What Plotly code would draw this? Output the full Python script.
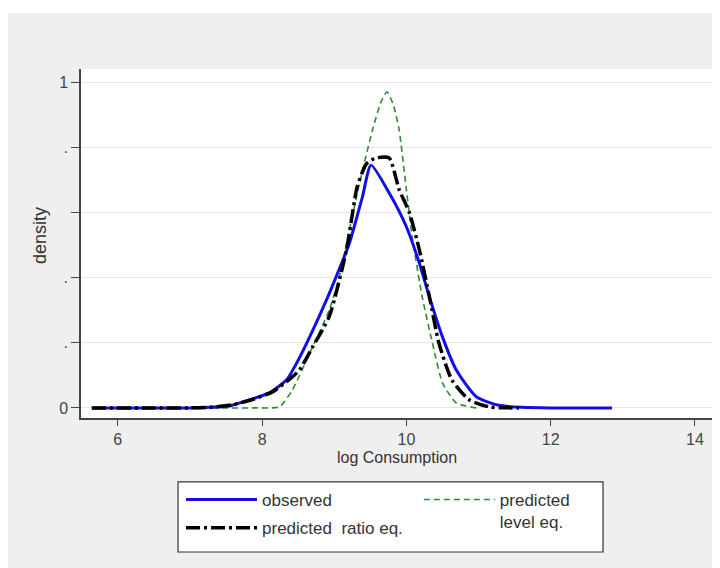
import plotly.graph_objects as go

# observed density
obs_x = [5.64, 6.5, 7.0, 7.27, 7.55, 7.83, 8.1, 8.34, 8.48, 8.66, 8.89, 9.05, 9.21, 9.39, 9.51,
         9.76, 10.0, 10.18, 10.32, 10.5, 10.69, 10.97, 11.28, 11.6, 12.0, 12.85]
obs_y = [0.0, 0.0, 0.0, 0.002, 0.006, 0.025, 0.046, 0.086, 0.138, 0.218, 0.33, 0.415, 0.505, 0.647, 0.745,
         0.66, 0.556, 0.444, 0.34, 0.218, 0.117, 0.034, 0.008, 0.002, 0.0, 0.0]

# predicted ratio eq.
ratio_x = [5.64, 6.5, 7.0, 7.3, 7.6, 7.9, 8.15, 8.42, 8.52, 8.7, 8.93, 9.17, 9.32, 9.45, 9.58,
           9.76, 9.9, 10.04, 10.18, 10.32, 10.45, 10.63, 10.87, 11.15, 11.56]
ratio_y = [0.0, 0.0, 0.0, 0.002, 0.01, 0.028, 0.05, 0.095, 0.117, 0.187, 0.28, 0.485, 0.68, 0.75, 0.767,
           0.767, 0.67, 0.60, 0.485, 0.34, 0.20, 0.086, 0.025, 0.003, 0.0]

# predicted level eq.
level_x = [5.64, 7.0, 7.9, 8.24, 8.42, 8.66, 8.93, 9.07, 9.21, 9.35, 9.53, 9.65, 9.73,
           9.82, 9.9, 10.0, 10.08, 10.22, 10.36, 10.5, 10.69, 10.97, 11.0]
level_y = [0.0, 0.0, 0.0, 0.003, 0.055, 0.168, 0.30, 0.40, 0.546, 0.69, 0.853, 0.94, 0.97,
           0.93, 0.853, 0.67, 0.525, 0.34, 0.20, 0.077, 0.015, 0.0, 0.0]

x_ticks = [6, 8, 10, 12, 14]
y_ticks = [0, 0.2, 0.4, 0.6, 0.8, 1]
y_tick_labels = ["0", ".", ".", " ", ".", "1"]

fig = go.Figure()
fig.add_trace(go.Scatter(x=level_x, y=level_y, mode="lines", name="predicted<br>level eq.",
                         line=dict(color="#2e8b2e", width=1.6, dash="6px,4px",
                                   shape="spline", smoothing=0.5),
                         legend="legend2"))
fig.add_trace(go.Scatter(x=obs_x, y=obs_y, mode="lines", name="observed", legendgroup="a",
                         line=dict(color="#1010e6", width=3, shape="spline", smoothing=0.6)))
fig.add_trace(go.Scatter(x=ratio_x, y=ratio_y, mode="lines", name="predicted  ratio eq.",
                         legendgroup="b",
                         line=dict(color="black", width=3.5, dash="14px,4px,3px,4px",
                                   shape="spline", smoothing=0.6)))

font_main = "Liberation Sans, Arial, sans-serif"

fig.update_layout(
    width=712, height=560,
    margin=dict(l=73, r=7, t=61, b=150, autoexpand=False),
    paper_bgcolor="#efefef",
    plot_bgcolor="white",
    font=dict(family=font_main, size=16, color="#333333"),
    xaxis=dict(range=[5.49, 14.25], tickvals=x_ticks, ticks="outside", ticklen=6,
               tickcolor="#444", showline=True, linecolor="#444", linewidth=1.5,
               showgrid=False, zeroline=False, mirror=False, automargin=True,
               title=dict(text="log Consumption", font=dict(size=16, color="#333"), standoff=5),
               tickfont=dict(size=16, color="#444")),
    yaxis=dict(range=[-0.031, 1.04], tickvals=y_ticks, ticktext=y_tick_labels,
               ticks="outside", ticklen=8, tickcolor="#444", showline=True,
               linecolor="#444", linewidth=1.5, showgrid=True, gridcolor="#e6e6e6",
               zeroline=False, automargin=True,
               tickfont=dict(size=16, color="#444")),
    annotations=[
        dict(text="density", xref="paper", yref="paper", x=-0.0649, y=0.524,
             textangle=-90, showarrow=False, xanchor="center", yanchor="middle",
             font=dict(size=18, color="#333")),
    ],
    showlegend=True,
    legend=dict(xref="container", yref="container", x=0.243, y=0.1536,
                xanchor="left", yanchor="top", orientation="v",
                bgcolor="rgba(0,0,0,0)", font=dict(size=17, color="#333"),
                itemwidth=71, tracegroupgap=3),
    legend2=dict(xref="container", yref="container", x=0.577, y=0.1536,
                 xanchor="left", yanchor="top", orientation="v", valign="top",
                 bgcolor="rgba(0,0,0,0)", font=dict(size=17, color="#333"),
                 itemwidth=71),
    shapes=[
        # white strip at top of the image
        dict(type="rect", xref="paper", yref="paper", x0=-0.14, x1=1.02, y0=1.1605, y1=1.2,
             fillcolor="white", line=dict(width=0), layer="below"),
        # legend frame
        dict(type="rect", xref="paper", yref="paper", x0=0.1535, x1=0.826, y0=-0.384, y1=-0.183,
             fillcolor="white", line=dict(color="#333", width=1.2), layer="below"),
    ],
)

fig.write_html("out.html")
